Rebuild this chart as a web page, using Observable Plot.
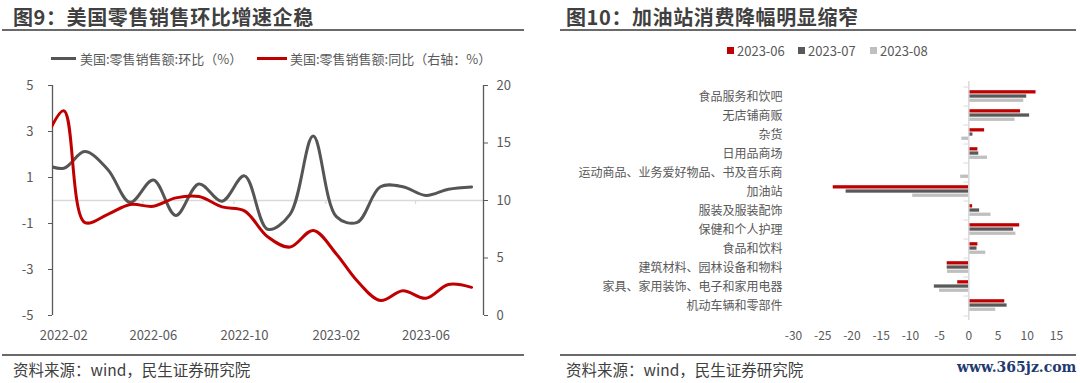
<!DOCTYPE html>
<html><head><meta charset="utf-8">
<script src="https://cdn.jsdelivr.net/npm/d3@7"></script>
<script src="https://cdn.jsdelivr.net/npm/@observablehq/plot@0.6"></script>
<style>
body{margin:0;background:#fff;font-family:"Noto Sans CJK SC","Noto Sans",sans-serif;}
#root{position:relative;width:1080px;height:383px;overflow:hidden;background:#fff;}
.abs{position:absolute;white-space:nowrap;}
.title{font-size:20px;font-weight:bold;color:#404040;line-height:20px;letter-spacing:0.6px;}
.rule{position:absolute;height:2px;background:#6a6a6a;}
.lg{font-size:13px;color:#595959;line-height:13px;}
.foot{font-size:15.5px;color:#404040;line-height:16px;}
.sw{position:absolute;width:7px;height:7px;}
.ln{position:absolute;height:3px;}
#err{position:absolute;left:10px;top:100px;font-size:11px;color:blue;white-space:pre-wrap;width:1000px;}
</style></head>
<body><div id="root">
<div class="abs title" style="left:13px;top:7px;">图9：美国零售销售环比增速企稳</div>
<div class="rule" style="left:2px;width:522px;top:29px;"></div>
<div class="abs title" style="left:566px;top:7px;">图10：加油站消费降幅明显缩窄</div>
<div class="rule" style="left:560px;width:516px;top:29px;"></div>

<div class="ln" style="left:51px;width:25px;top:57px;background:#555555;"></div>
<div class="abs lg" style="left:80px;top:52px;">美国:零售销售额:环比（%）</div>
<div class="ln" style="left:257px;width:30px;top:57px;background:#C00000;"></div>
<div class="abs lg" style="left:290px;top:52px;">美国:零售销售额:同比（右轴：%）</div>

<div class="sw" style="left:727px;top:47px;background:#C00000;"></div>
<div class="abs lg" style="left:737px;top:44px;">2023-06</div>
<div class="sw" style="left:798px;top:47px;background:#595959;"></div>
<div class="abs lg" style="left:808px;top:44px;">2023-07</div>
<div class="sw" style="left:870px;top:47px;background:#BFBFBF;"></div>
<div class="abs lg" style="left:880px;top:44px;">2023-08</div>

<div id="left" style="position:absolute;left:0;top:70px;width:540px;height:275px;"></div>
<div id="right" style="position:absolute;left:560px;top:70px;width:520px;height:280px;"></div>

<div class="rule" style="left:2px;width:522px;top:354px;"></div>
<div class="rule" style="left:560px;width:516px;top:354px;"></div>
<div class="abs foot" style="left:13px;top:361px;">资料来源：wind，民生证券研究院</div>
<div class="abs foot" style="left:566px;top:361px;">资料来源：wind，民生证券研究院</div>
<div class="abs" style="left:957px;top:359px;font-family:'DejaVu Serif',serif;font-weight:bold;font-size:14px;color:#1f3b70;line-height:16px;">www.365jz.com</div>
<div id="err"></div>
</div>
<script>
// ---------- left chart data ----------
const months = ["2022-01","2022-02","2022-03","2022-04","2022-05","2022-06","2022-07","2022-08","2022-09","2022-10","2022-11","2022-12","2023-01","2023-02","2023-03","2023-04","2023-05","2023-06","2023-07","2023-08"];
const momValues = [1.65, 1.4, 2.13, 1.35, -0.08, 0.89, -0.65, 0.72, -0.03, 1.07, -1.25, -0.6, 2.8, -0.7, -0.95, 0.6, 0.6, 0.22, 0.49, 0.59];
const yoyValues = [14.3, 17.8, 8.1, 8.8, 9.65, 9.5, 10.23, 10.35, 9.45, 9.1, 6.85, 5.95, 7.4, 5.35, 3.0, 1.3, 2.15, 1.5, 2.7, 2.45];
const xTickLabels = ["2022-02","2022-06","2022-10","2023-02","2023-06"];
const leftTicks = [-5, -3, -1, 1, 3, 5];
const rightTicks = [0, 5, 10, 15, 20];

// ---------- right chart data ----------
const categories = ["食品服务和饮吧","无店铺商贩","杂货","日用品商场","运动商品、业务爱好物品、书及音乐商","加油站","服装及服装配饰","保健和个人护理","食品和饮料","建筑材料、园林设备和物料","家具、家用装饰、电子和家用电器","机动车辆和零部件"];
const seriesNames = ["2023-06","2023-07","2023-08"];
const jun2023 = [11.5, 8.85, 2.7, 1.55, 0, -23.2, 0.65, 8.7, 1.55, -3.7, -1.9, 6.15];
const jul2023 = [9.9, 10.4, 0.7, 1.7, 0, -21.0, 1.85, 7.65, 1.4, -3.7, -5.9, 6.55];
const aug2023 = [9.4, 7.9, -1.2, 3.2, -1.4, -9.6, 3.8, 8.05, 2.9, -3.65, -5.0, 4.6];
const barTicks = [-30, -25, -20, -15, -10, -5, 0, 5, 10, 15];

const errBox = document.getElementById("err");
function report(e) { errBox.textContent += (e && e.stack ? e.stack : String(e)) + "\n"; }
window.addEventListener("error", ev => report(ev.message));

const font = '"Noto Sans CJK SC","Noto Sans",sans-serif';

try {
  const parse = d3.utcParse("%Y-%m");
  const fmt = d3.utcFormat("%Y-%m");
  const toLeft = v => (v - 10) / 2;
  const lineData = months.map((m, i) => ({date: parse(m), mom: momValues[i], yoy: toLeft(yoyValues[i])}));
  const labelDates = xTickLabels.map(parse);
  const crossTicks = labelDates.slice(1).map(d => ({date: d3.utcDay.offset(d, -14)}));
  const x0 = new Date(Date.UTC(2022, 0, 17)), x1 = new Date(Date.UTC(2023, 7, 17));
  const left = Plot.plot({
    width: 540, height: 275, marginLeft: 52, marginRight: 57, marginTop: 15, marginBottom: 30,
    style: {fontFamily: font, fontSize: "13px", color: "#595959", background: "transparent", overflow: "visible"},
    x: {type: "utc", domain: [x0, x1], ticks: labelDates, tickFormat: fmt, tickSize: 0, tickPadding: 15, label: null},
    y: {domain: [-5, 5]},
    marks: [
      Plot.ruleY([0], {stroke: "#d9d9d9", strokeWidth: 1.5}),
      Plot.ruleX(crossTicks, {x: "date", y1: 0, y2: -0.17, stroke: "#d9d9d9", strokeWidth: 1.2}),
      Plot.ruleX([x0, x1], {stroke: "#595959", strokeWidth: 1.3}),
      Plot.axisY(leftTicks, {anchor: "left", tickSize: 4, tickPadding: 15, tickFormat: d => String(d), label: null}),
      Plot.axisY(rightTicks.map(toLeft), {anchor: "right", tickSize: 4, tickPadding: 9, tickFormat: d => String(d * 2 + 10), label: null}),
      Plot.line(lineData, {x: "date", y: "mom", stroke: "#555555", strokeWidth: 3, curve: "catmull-rom", clip: true}),
      Plot.line(lineData, {x: "date", y: "yoy", stroke: "#C00000", strokeWidth: 3, curve: "catmull-rom", clip: true})
    ]
  });
  document.getElementById("left").appendChild(left);
} catch (e) { report(e); }

try {
  const bw = (280 - 11 - 30) / categories.length;
  const barH = 4.2, barTop = 3.2;
  const seriesVals = [jun2023, jul2023, aug2023];
  const seriesColors = ["#C00000", "#595959", "#BFBFBF"];
  const barMarks = seriesVals.map((vals, s) =>
    Plot.barX(categories.map((c, i) => ({cat: c, v: vals[i], series: seriesNames[s]})), {
      y: "cat", x1: 0, x2: "v", fill: seriesColors[s],
      insetTop: barTop + s * barH, insetBottom: bw - (barTop + (s + 1) * barH)
    })
  );
  const edges = categories.map(c => ({cat: c}));
  const right = Plot.plot({
    width: 520, height: 280, marginLeft: 233, marginRight: 24, marginTop: 11, marginBottom: 30,
    style: {fontFamily: font, fontSize: "12px", color: "#595959", background: "transparent", overflow: "visible"},
    x: {domain: [-30, 15], ticks: barTicks, tickFormat: d => String(d), tickSize: 0, tickPadding: 11, label: null},
    y: {domain: categories, padding: 0, tickSize: 0, tickPadding: 11, label: null},
    marks: [
      ...barMarks,
      Plot.ruleX([0], {stroke: "#d9d9d9", strokeWidth: 1.5}),
      Plot.ruleY(edges, {y: "cat", dy: -bw / 2, x1: -0.85, x2: 0, stroke: "#d9d9d9"}),
      Plot.ruleY(edges.slice(-1), {y: "cat", dy: bw / 2, x1: -0.85, x2: 0, stroke: "#d9d9d9"})
    ]
  });
  document.getElementById("right").appendChild(right);
} catch (e) { report(e); }
</script>
</body></html>
